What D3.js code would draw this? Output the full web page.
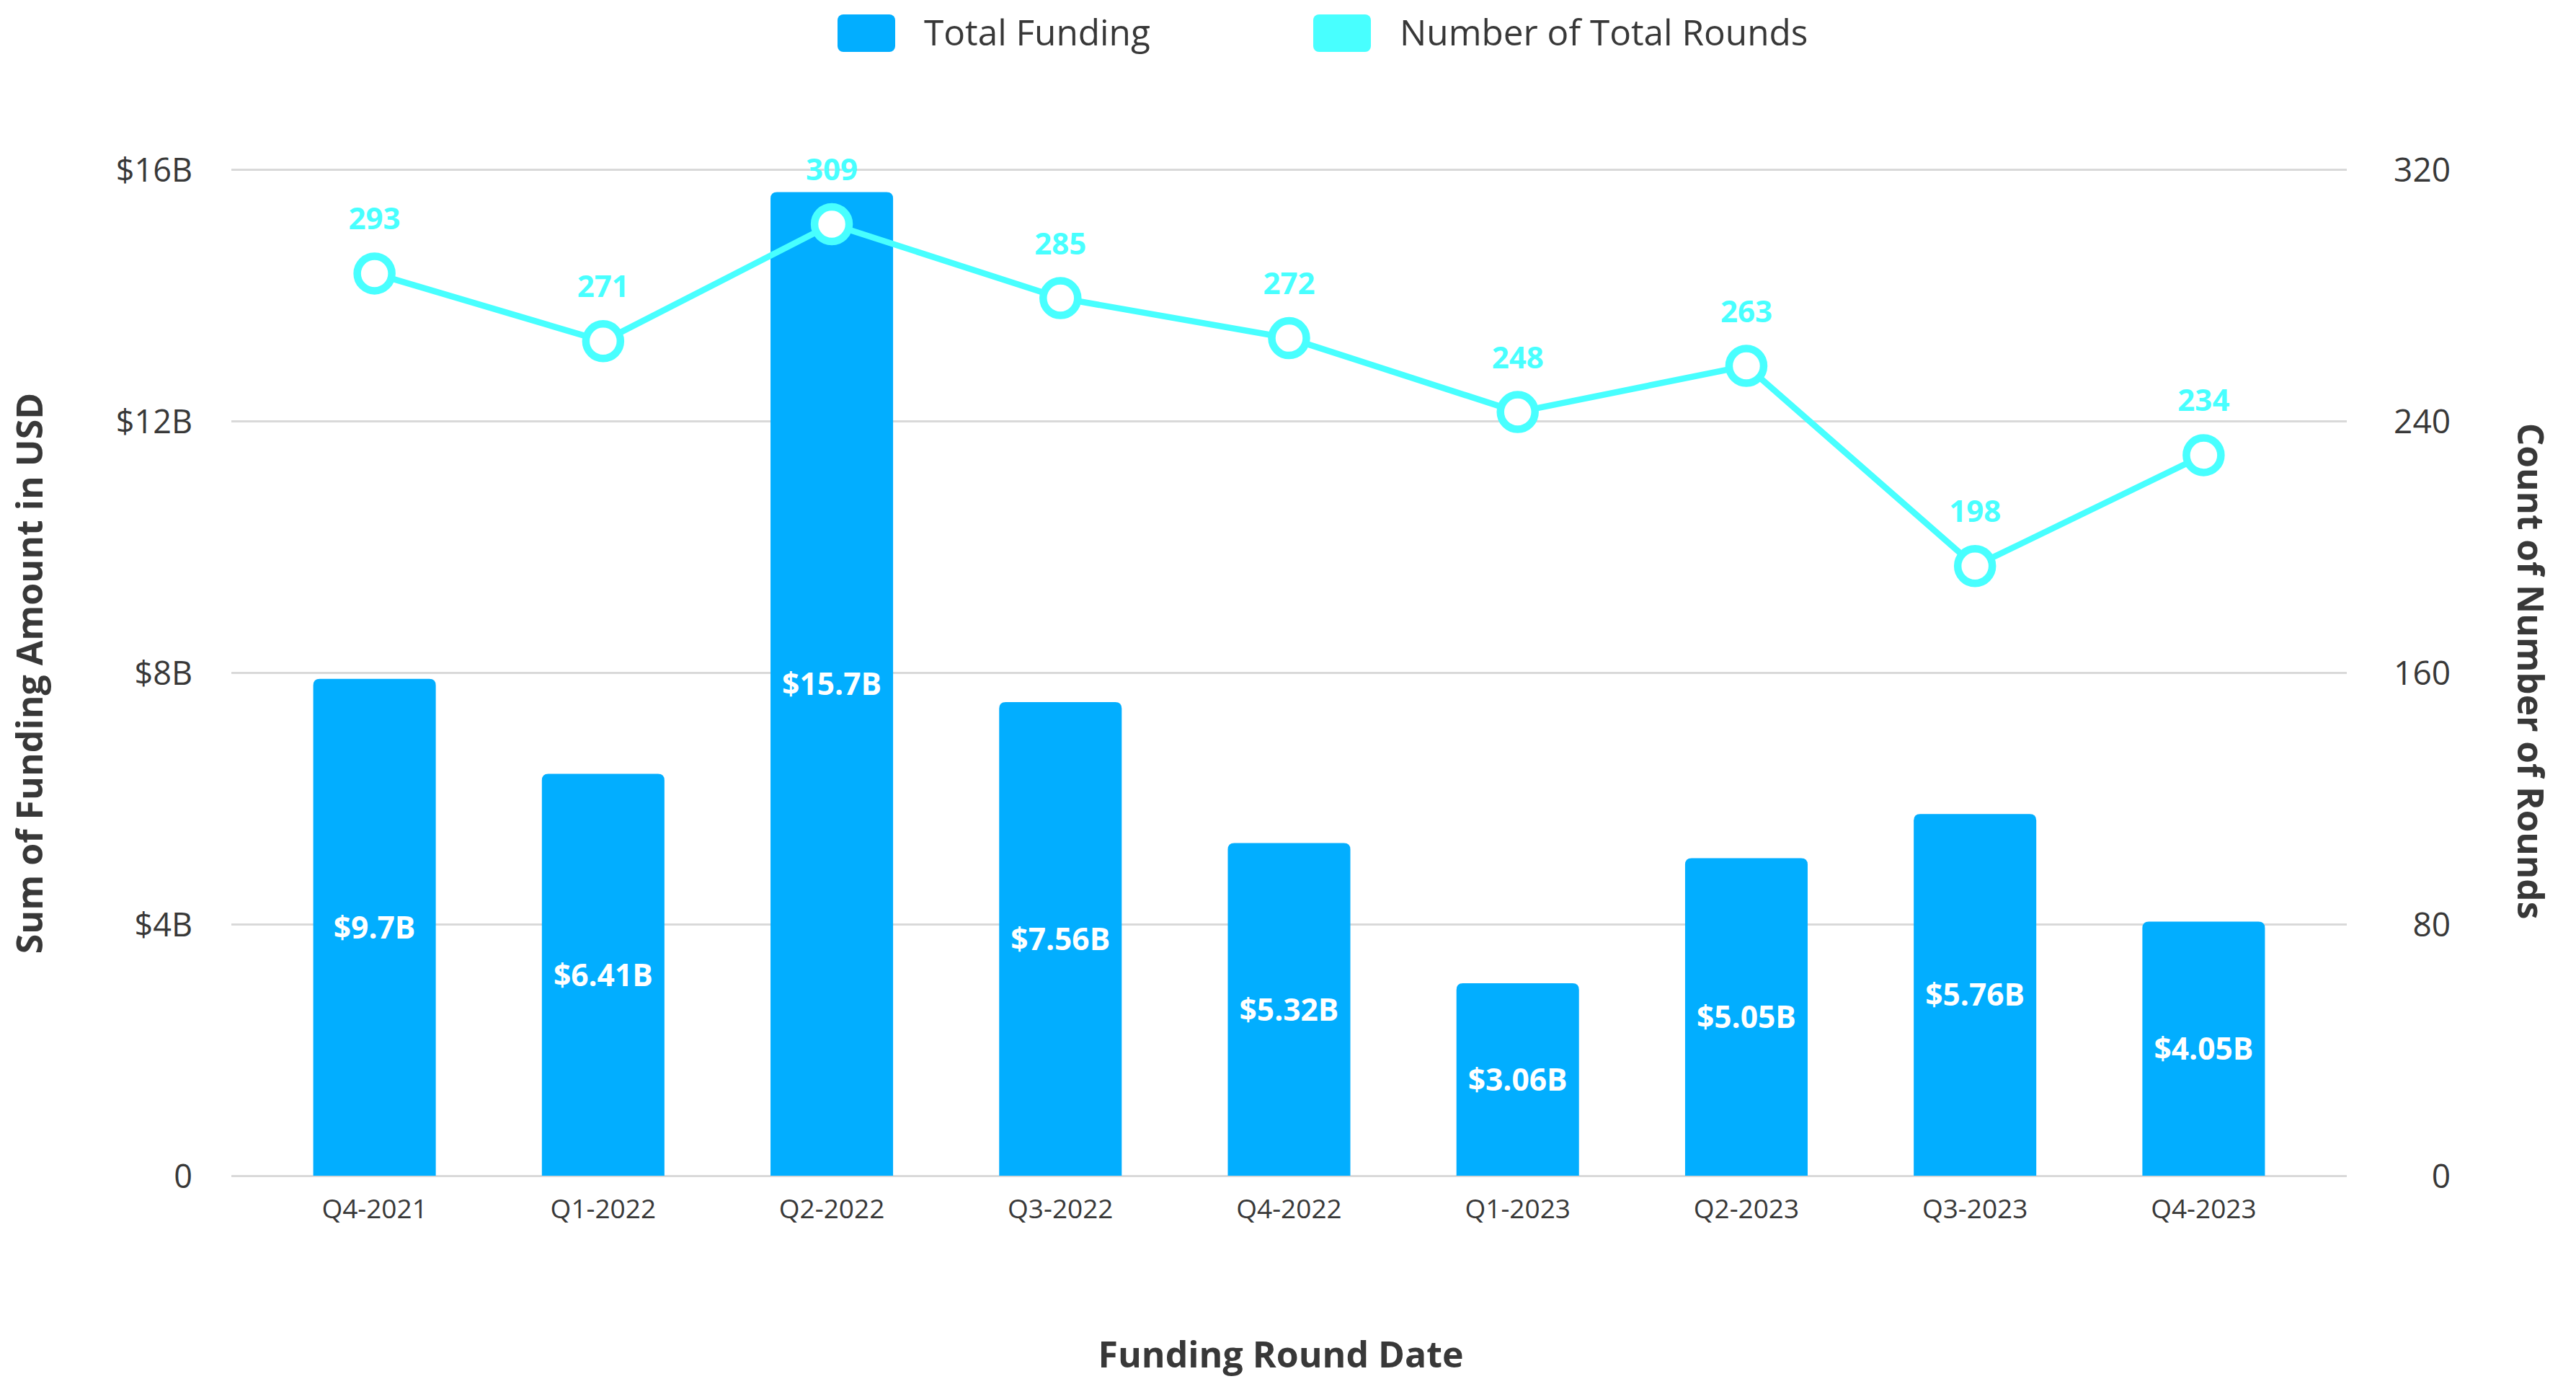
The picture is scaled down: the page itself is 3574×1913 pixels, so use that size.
<!DOCTYPE html>
<html>
<head>
<meta charset="utf-8">
<script src="https://cdn.jsdelivr.net/npm/d3@7"></script>
<style>
  html, body { margin: 0; padding: 0; background: #ffffff; }
  svg { display: block; }
  text { font-family: "Open Sans", "Noto Sans", sans-serif; }
</style>
</head>
<body>
<svg id="chart" width="3574" height="1913"></svg>
<script>
// ---------------- data ----------------
const categories = ["Q4-2021", "Q1-2022", "Q2-2022", "Q3-2022", "Q4-2022", "Q1-2023", "Q2-2023", "Q3-2023", "Q4-2023"];
// bar heights as drawn (billions USD)
const fundingValues = [7.9, 6.39, 15.64, 7.53, 5.29, 3.06, 5.05, 5.75, 4.04];
// bar labels as printed
const fundingLabels = ["$9.7B", "$6.41B", "$15.7B", "$7.56B", "$5.32B", "$3.06B", "$5.05B", "$5.76B", "$4.05B"];
// number of rounds
const roundsValues = [293, 271, 309, 285, 272, 248, 263, 198, 234];
const leftTickValues = [0, 4, 8, 12, 16];
const leftTickLabels = ["0", "$4B", "$8B", "$12B", "$16B"];
const rightTickValues = [0, 80, 160, 240, 320];
const legendItems = ["Total Funding", "Number of Total Rounds"];

// ---------------- layout ----------------
const plotLeft = 321, plotRight = 3256;
const yBase = 1631, yTop = 235;
const barColor = "#02aeff", lineColor = "#48ffff";
const textColor = "#383838", gridColor = "#d9d9d9";
const roundsAxisMax = 326.8; // top of the rounds scale as plotted

const svg = d3.select("#chart");

const x = d3.scaleBand().domain(categories).range([361, 3216]).paddingInner(0.464).paddingOuter(0.232);
const yL = d3.scaleLinear().domain([0, 16]).range([yBase, yTop]);
const yR = d3.scaleLinear().domain([0, roundsAxisMax]).range([yBase, yTop]);
const yRAxis = d3.scaleLinear().domain([0, 320]).range([yBase, yTop]);

// gridlines
const grid = svg.append("g").attr("transform", `translate(${plotLeft},0)`)
  .call(d3.axisLeft(yL).tickValues(leftTickValues).tickSize(-(plotRight - plotLeft)).tickFormat(""));
grid.select(".domain").remove();
grid.selectAll("line").attr("stroke", gridColor).attr("stroke-width", 3);

// left axis labels
const axL = svg.append("g").attr("transform", `translate(${plotLeft},0)`)
  .call(d3.axisLeft(yL).tickValues(leftTickValues).tickSize(0).tickPadding(54)
    .tickFormat((d, i) => leftTickLabels[i]));
axL.select(".domain").remove();
axL.selectAll("text").attr("fill", textColor).style("font-size", "45px")
  .style("font-family", "'Open Sans'").attr("dy", "0.36em");

// right axis labels
const axR = svg.append("g").attr("transform", `translate(${plotRight},0)`)
  .call(d3.axisRight(yRAxis).tickValues(rightTickValues).tickSize(0).tickPadding(144)
    .tickFormat(d3.format("d")));
axR.select(".domain").remove();
axR.selectAll("text").attr("fill", textColor).style("font-size", "46px")
  .style("font-family", "'Open Sans'").attr("text-anchor", "end").attr("dy", "0.36em");

// x axis
const axX = svg.append("g").attr("transform", `translate(0,${yBase})`)
  .call(d3.axisBottom(x).tickSize(0));
axX.select(".domain").remove();
axX.selectAll("text").attr("fill", textColor).style("font-size", "37px")
  .style("font-family", "'Open Sans'").attr("y", 59).attr("dy", 0);

// bars (rounded top corners)
const r = 9;
function barPath(x0, y0, w, y1) {
  return `M${x0},${y1}V${y0 + r}Q${x0},${y0} ${x0 + r},${y0}H${x0 + w - r}Q${x0 + w},${y0} ${x0 + w},${y0 + r}V${y1}Z`;
}
svg.append("g").selectAll("path").data(categories).join("path")
  .attr("d", (c, i) => barPath(x(c), yL(fundingValues[i]), x.bandwidth(), yL(0)))
  .attr("fill", barColor);

// bar labels
svg.append("g").selectAll("text").data(categories).join("text")
  .attr("x", c => x(c) + x.bandwidth() / 2)
  .attr("y", (c, i) => (yL(fundingValues[i]) + yL(0)) / 2)
  .attr("dy", "0.36em")
  .attr("text-anchor", "middle")
  .attr("fill", "#ffffff")
  .style("font-size", "42.5px").style("font-weight", "700")
  .text((c, i) => fundingLabels[i]);

// line
const cx = c => x(c) + x.bandwidth() / 2;
const line = d3.line().x((d, i) => cx(categories[i])).y(d => yR(d));
svg.append("path").datum(roundsValues)
  .attr("d", line).attr("fill", "none")
  .attr("stroke", lineColor).attr("stroke-width", 8.5).attr("stroke-linejoin", "round");

svg.append("g").selectAll("circle").data(roundsValues).join("circle")
  .attr("cx", (d, i) => cx(categories[i])).attr("cy", d => yR(d))
  .attr("r", 24).attr("fill", "#ffffff").attr("stroke", lineColor).attr("stroke-width", 10.5);

svg.append("g").selectAll("text").data(roundsValues).join("text")
  .attr("x", (d, i) => cx(categories[i])).attr("y", d => yR(d) - 61)
  .attr("text-anchor", "middle").attr("fill", lineColor)
  .style("font-size", "42px").style("font-weight", "700")
  .text(d => d);

// axis titles
svg.append("text")
  .attr("transform", `translate(59,934) rotate(-90)`)
  .attr("text-anchor", "middle").attr("fill", textColor)
  .style("font-size", "50px").style("font-weight", "700")
  .text("Sum of Funding Amount in USD");

svg.append("text")
  .attr("transform", `translate(3493,931) rotate(90)`)
  .attr("text-anchor", "middle").attr("fill", textColor)
  .style("font-size", "49.5px").style("font-weight", "700")
  .text("Count of Number of Rounds");

svg.append("text")
  .attr("x", 1777).attr("y", 1897)
  .attr("text-anchor", "middle").attr("fill", textColor)
  .style("font-size", "50px").style("font-weight", "700")
  .text("Funding Round Date");

// legend
const legendX = [1162, 1822];
const legendColors = [barColor, lineColor];
const lg = svg.append("g").selectAll("g").data(legendItems).join("g")
  .attr("transform", (d, i) => `translate(${legendX[i]},20)`);
lg.append("rect").attr("width", 80).attr("height", 52).attr("rx", 8)
  .attr("fill", (d, i) => legendColors[i]);
lg.append("text").attr("x", 120).attr("y", 43)
  .attr("fill", textColor).style("font-size", "49.5px")
  .text(d => d);
</script>
</body>
</html>
